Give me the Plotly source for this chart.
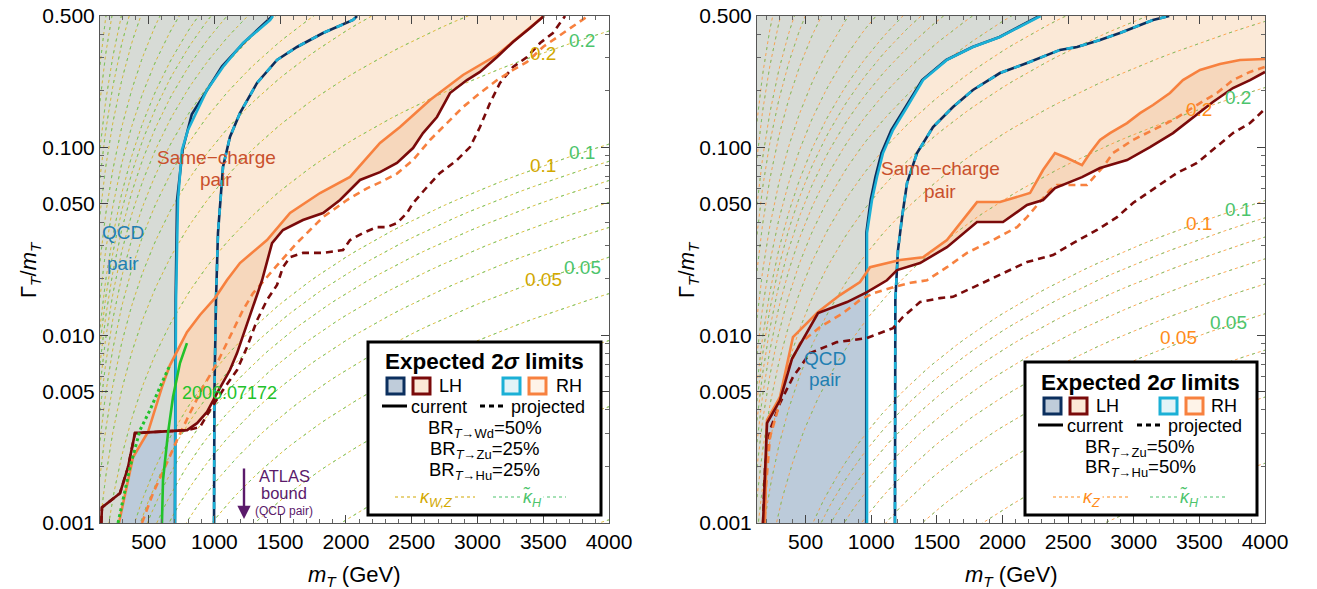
import numpy as np
import plotly.graph_objects as go

FONT = "Liberation Sans, Arial, sans-serif"

# ---------------- axes ----------------
M_RANGE = [130, 4000]
G_RANGE = [0.001, 0.5]
x_tickvals = [500, 1000, 1500, 2000, 2500, 3000, 3500, 4000]
y_tickvals = [0.001, 0.005, 0.01, 0.05, 0.1, 0.5]
y_ticktext = ["0.001", "0.005", "0.010", "0.050", "0.100", "0.500"]
y_minor = [0.002, 0.003, 0.004, 0.006, 0.007, 0.008, 0.009,
           0.02, 0.03, 0.04, 0.06, 0.07, 0.08, 0.09, 0.2, 0.3, 0.4]

# ---------------- coupling contours (Gamma/m = C * kappa^2 * m^2) ----------------
kappa_levels = [0.01, 0.02, 0.03, 0.04, 0.05, 0.06, 0.07, 0.08, 0.09,
                0.1, 0.2, 0.3, 0.4, 0.5, 0.6, 0.7, 0.8, 0.9,
                1.0, 1.2, 1.5, 2.0, 2.5, 3.0, 4.0, 5.0]
C_left = 6.5e-7    # GeV^-2
C_right = 3.25e-7

# ---------------- LEFT panel (BR: Wd 50%, Zu 25%, Hu 25%) ----------------
L_qcd_rh_m = [700, 708, 723, 753, 799, 944, 1065, 1217, 1423, 1445]
L_qcd_rh_g = [0.001, 0.0154, 0.0524, 0.0967, 0.1236, 0.2018, 0.2676, 0.359, 0.4757, 0.5]
L_qcd_lh_m = [700, 705, 716, 758, 828, 938, 1058, 1222, 1440]
L_qcd_lh_g = [0.001, 0.0154, 0.0524, 0.0967, 0.15, 0.2, 0.27, 0.36, 0.5]
L_qcd_proj_m = [997, 1000, 1012, 1027, 1065, 1118, 1194, 1324, 1476, 1628, 1826, 2054, 2084]
L_qcd_proj_g = [0.001, 0.005, 0.0154, 0.035, 0.0785, 0.1135, 0.152, 0.22, 0.2917, 0.342, 0.406, 0.476, 0.5]

L_sc_rh_m = [274, 381, 495, 601, 662, 791, 890, 1004, 1096, 1194, 1400, 1575, 1803, 2031,
             2259, 2411, 2639, 2890, 3148, 3377, 3505]
L_sc_rh_g = [0.001, 0.00224, 0.00305, 0.00529, 0.00693, 0.01038, 0.0128, 0.01575, 0.01964,
             0.0242, 0.0321, 0.0447, 0.0571, 0.0695, 0.1054, 0.1282, 0.1786, 0.2427, 0.31, 0.421, 0.5]
L_sc_lh_m = [140, 145, 282, 343, 396, 792, 868, 944, 1020, 1118, 1172, 1248, 1324, 1362, 1438,
             1521, 1673, 1826, 1955, 2107, 2259, 2388, 2510, 2586, 2692, 2791, 2920, 3019, 3149,
             3270, 3400, 3505]
L_sc_lh_g = [0.001, 0.00121, 0.00144, 0.00198, 0.00301, 0.00312, 0.0034, 0.0039, 0.00491,
             0.00652, 0.00803, 0.0116, 0.0167, 0.0196, 0.0309, 0.0363, 0.041, 0.0447, 0.0524,
             0.067, 0.0738, 0.0825, 0.0991, 0.119, 0.145, 0.1945, 0.228, 0.252, 0.3024, 0.3635,
             0.4316, 0.5]
L_sc_rh_proj_m = [449, 533, 624, 715, 814, 913, 1020, 1118, 1217, 1293, 1400, 1476, 1552, 1628,
                  1727, 1826, 2008, 2160, 2259, 2388, 2510, 2639, 2768, 2890, 3019, 3149, 3270,
                  3377, 3498, 3627, 3757, 3840]
L_sc_rh_proj_g = [0.001, 0.00144, 0.00198, 0.00276, 0.00385, 0.00529, 0.0071, 0.00977, 0.0136,
                  0.0167, 0.0205, 0.0235, 0.027, 0.031, 0.0363, 0.0425, 0.0524, 0.0605, 0.065,
                  0.0725, 0.0855, 0.1094, 0.1346, 0.1638, 0.1945, 0.228, 0.258, 0.2845, 0.342,
                  0.396, 0.459, 0.5]
L_sc_lh_proj_m = [140, 145, 282, 343, 396, 792, 890, 966, 1065, 1172, 1248, 1324, 1400, 1476,
                  1521, 1575, 1673, 1826, 1978, 2031, 2130, 2236, 2312, 2388, 2464, 2510, 2616,
                  2715, 2844, 2943, 3019, 3095, 3171, 3270, 3377, 3476, 3574, 3666]
L_sc_lh_proj_g = [0.001, 0.00121, 0.00144, 0.00198, 0.00301, 0.00312, 0.00324, 0.00399, 0.0051,
                  0.00652, 0.00864, 0.012, 0.0154, 0.0185, 0.023, 0.026, 0.0274, 0.0274, 0.0284,
                  0.0321, 0.035, 0.0376, 0.0376, 0.0395, 0.0447, 0.0505, 0.0614, 0.073, 0.0855,
                  0.1003, 0.1282, 0.172, 0.22, 0.2676, 0.3024, 0.359, 0.406, 0.5]
L_lit_m = [601, 609, 647, 685, 738, 791]            # 2006.07172 (solid green)
L_lit_g = [0.001, 0.00169, 0.00301, 0.00468, 0.0071, 0.00907]
L_lit2_m = [267, 358, 434, 510, 586, 662]           # dotted green
L_lit2_g = [0.001, 0.00198, 0.00312, 0.00399, 0.00529, 0.00693]

# ---------------- RIGHT panel (BR: Zu 50%, Hu 50%) ----------------
R_qcd_rh_m = [968, 968, 968, 1006, 1044, 1090, 1166, 1273, 1395, 1577, 1775, 1981, 2156, 2263, 2290]
R_qcd_rh_g = [0.001, 0.0154, 0.035, 0.0524, 0.0695, 0.0932, 0.1236, 0.1638, 0.228, 0.2917,
              0.342, 0.3866, 0.448, 0.49, 0.5]
R_qcd_lh_m = [962, 962, 963, 996, 1032, 1078, 1153, 1262, 1388, 1572, 1772, 1978, 2152, 2280]
R_qcd_lh_g = [0.001, 0.0154, 0.035, 0.0524, 0.0695, 0.0932, 0.1236, 0.1638, 0.228, 0.2917,
              0.342, 0.3866, 0.448, 0.5]
R_qcd_proj_m = [1181, 1184, 1204, 1235, 1273, 1349, 1471, 1623, 1775, 1981, 2187, 2438, 2568,
                2743, 2895, 3048, 3147, 3270]
R_qcd_proj_g = [0.001, 0.0154, 0.0284, 0.0425, 0.0646, 0.0932, 0.1282, 0.1638, 0.2018, 0.2485,
                0.281, 0.33, 0.342, 0.3725, 0.406, 0.448, 0.476, 0.5]
R_sc_rh_m = [191, 206, 305, 404, 595, 762, 915, 991, 1219, 1395, 1577, 1699, 1806, 1981, 2210,
             2309, 2400, 2492, 2606, 2667, 2743, 2819, 2949, 3048, 3147, 3276, 3375, 3505, 3657,
             3809, 4000]
R_sc_rh_g = [0.001, 0.00353, 0.00468, 0.00977, 0.01327, 0.01634, 0.01917, 0.023, 0.0251, 0.026,
             0.0321, 0.041, 0.0511, 0.0511, 0.0571, 0.0757, 0.0932, 0.0877, 0.0804, 0.0932,
             0.1094, 0.119, 0.1346, 0.152, 0.168, 0.1945, 0.228, 0.258, 0.2776, 0.2917, 0.295]
R_sc_lh_m = [176, 206, 305, 397, 595, 816, 968, 1120, 1197, 1372, 1577, 1806, 2004, 2187, 2309,
             2400, 2606, 2743, 2949, 3124, 3299, 3451, 3603, 3756, 3886, 4000]
R_sc_lh_g = [0.001, 0.0034, 0.0045, 0.0075, 0.0131, 0.015, 0.01696, 0.0196, 0.0222, 0.0242,
             0.0294, 0.04, 0.04, 0.0493, 0.0524, 0.0607, 0.0694, 0.0776, 0.0855, 0.1003, 0.119,
             0.1432, 0.1742, 0.2068, 0.228, 0.252]
R_sc_rh_proj_m = [176, 229, 282, 359, 458, 610, 785, 915, 1014, 1166, 1300, 1425, 1577, 1730,
                  1928, 2111, 2187, 2362, 2415, 2644, 2766, 2842, 2994, 3147, 3299, 3505, 3634,
                  3756, 3886, 4000]
R_sc_rh_proj_g = [0.001, 0.00287, 0.00385, 0.00652, 0.00907, 0.01104, 0.0131, 0.0154, 0.0167,
                  0.018, 0.019, 0.0196, 0.023, 0.0274, 0.0321, 0.0376, 0.0425, 0.0592, 0.063,
                  0.063, 0.0785, 0.0932, 0.1094, 0.1236, 0.1397, 0.172, 0.1945, 0.228, 0.252, 0.268]
R_sc_lh_proj_m = [176, 191, 229, 305, 404, 534, 739, 968, 1166, 1242, 1372, 1524, 1623, 1776,
                  1981, 2187, 2385, 2538, 2720, 2873, 2994, 3177, 3329, 3482, 3603, 3756, 3886, 4000]
R_sc_lh_proj_g = [0.001, 0.00198, 0.00312, 0.00435, 0.00598, 0.00803, 0.00918, 0.00965, 0.0109,
                  0.0125, 0.015, 0.01575, 0.016, 0.018, 0.0209, 0.0245, 0.0267, 0.0309, 0.0363,
                  0.0425, 0.0505, 0.0614, 0.073, 0.0825, 0.0967, 0.119, 0.1346, 0.16]

# ---------------- styling ----------------
NAVY = "#0B2F5E"
CYAN = "#1BB0D6"
DRED = "#7A0A0A"
ORNG = "#F7813F"
GREEN_LIT = "#22C22A"
FILL_DPEACH = "#F6D7BC"
FILL_LPEACH = "#FBE9D7"
FILL_GREY = "#D7DBD6"
FILL_BLUE = "#BCCBDA"
GOLD_C = "rgba(212,176,20,0.8)"
GREEN_C = "rgba(92,200,120,0.8)"
ORNG_C = "rgba(255,150,50,0.8)"

PANELS = {1: (100, 609), 2: (757, 1265)}
PTOP, PBOT = 16, 523

fig = go.Figure()


def axes(panel):
    return ("x", "y") if panel == 1 else ("x2", "y2")


def add(panel, **kw):
    xa, ya = axes(panel)
    fig.add_trace(go.Scatter(xaxis=xa, yaxis=ya, hoverinfo="skip", showlegend=False, **kw))


def above_polygon(m, g):
    xs = list(m) + [m[-1], M_RANGE[1] if m[-1] >= M_RANGE[1] else m[-1], M_RANGE[0], M_RANGE[0]]
    ys = list(g) + [G_RANGE[1], G_RANGE[1], G_RANGE[1], G_RANGE[0]]
    return xs, ys


def qcd_only_polygon(qm, curves):
    m_q = qm[0]
    pts = sorted(set([M_RANGE[0], m_q] + [mm for c in curves for mm in c[0] if M_RANGE[0] <= mm <= m_q]))
    env = []
    for mm in pts:
        vals = [np.interp(mm, cm, np.log10(cg), left=np.log10(G_RANGE[0])) for cm, cg in curves]
        env.append(10 ** min(vals))
    return pts + [m_q, M_RANGE[0]], env + [G_RANGE[0], G_RANGE[0]]


def contour_xy(C):
    ms = np.geomspace(M_RANGE[0], M_RANGE[1], 90)
    xs, ys = [], []
    for k in kappa_levels:
        xs += list(ms) + [None]
        ys += list(C * k * k * ms ** 2) + [None]
    return xs, ys


def draw_panel(panel, d, C, col_a):
    for (m, g), col in [((d["sc_lh_m"], d["sc_lh_g"]), FILL_DPEACH),
                        ((d["sc_rh_m"], d["sc_rh_g"]), FILL_LPEACH),
                        ((d["qcd_rh_m"], d["qcd_rh_g"]), FILL_GREY)]:
        xs, ys = above_polygon(m, g)
        add(panel, x=xs, y=ys, mode="lines", fill="toself", fillcolor=col, line=dict(width=0))
    xs, ys = qcd_only_polygon(d["qcd_rh_m"], [(d["sc_lh_m"], d["sc_lh_g"]), (d["sc_rh_m"], d["sc_rh_g"])])
    add(panel, x=xs, y=ys, mode="lines", fill="toself", fillcolor=FILL_BLUE, line=dict(width=0))
    cx, cy = contour_xy(C)
    add(panel, x=cx, y=cy, mode="lines", line=dict(color=col_a, width=1, dash="3px,3px"))
    add(panel, x=cx, y=cy, mode="lines", line=dict(color=GREEN_C, width=1, dash="3px,9px"))
    add(panel, x=d["qcd_proj_m"], y=d["qcd_proj_g"], mode="lines", line=dict(color=NAVY, width=2.6))
    add(panel, x=d["qcd_proj_m"], y=d["qcd_proj_g"], mode="lines",
        line=dict(color=CYAN, width=2.6, dash="7px,7px"))
    add(panel, x=d["qcd_lh_m"], y=d["qcd_lh_g"], mode="lines", line=dict(color=NAVY, width=2.6))
    add(panel, x=d["qcd_rh_m"], y=d["qcd_rh_g"], mode="lines", line=dict(color=CYAN, width=2.6))
    add(panel, x=d["sc_lh_proj_m"], y=d["sc_lh_proj_g"], mode="lines",
        line=dict(color=DRED, width=2.6, dash="7px,5px"))
    add(panel, x=d["sc_rh_proj_m"], y=d["sc_rh_proj_g"], mode="lines",
        line=dict(color=ORNG, width=2.6, dash="7px,5px"))
    add(panel, x=d["sc_rh_m"], y=d["sc_rh_g"], mode="lines", line=dict(color=ORNG, width=2.6))
    add(panel, x=d["sc_lh_m"], y=d["sc_lh_g"], mode="lines", line=dict(color=DRED, width=2.6))


left = dict(qcd_rh_m=L_qcd_rh_m, qcd_rh_g=L_qcd_rh_g, qcd_lh_m=L_qcd_lh_m, qcd_lh_g=L_qcd_lh_g,
            qcd_proj_m=L_qcd_proj_m, qcd_proj_g=L_qcd_proj_g, sc_rh_m=L_sc_rh_m, sc_rh_g=L_sc_rh_g,
            sc_lh_m=L_sc_lh_m, sc_lh_g=L_sc_lh_g, sc_rh_proj_m=L_sc_rh_proj_m,
            sc_rh_proj_g=L_sc_rh_proj_g, sc_lh_proj_m=L_sc_lh_proj_m, sc_lh_proj_g=L_sc_lh_proj_g)
right = dict(qcd_rh_m=R_qcd_rh_m, qcd_rh_g=R_qcd_rh_g, qcd_lh_m=R_qcd_lh_m, qcd_lh_g=R_qcd_lh_g,
             qcd_proj_m=R_qcd_proj_m, qcd_proj_g=R_qcd_proj_g, sc_rh_m=R_sc_rh_m, sc_rh_g=R_sc_rh_g,
             sc_lh_m=R_sc_lh_m, sc_lh_g=R_sc_lh_g, sc_rh_proj_m=R_sc_rh_proj_m,
             sc_rh_proj_g=R_sc_rh_proj_g, sc_lh_proj_m=R_sc_lh_proj_m, sc_lh_proj_g=R_sc_lh_proj_g)

draw_panel(1, left, C_left, GOLD_C)
add(1, x=L_lit2_m, y=L_lit2_g, mode="lines", line=dict(color=GREEN_LIT, width=3, dash="dot"))
add(1, x=L_lit_m, y=L_lit_g, mode="lines", line=dict(color=GREEN_LIT, width=2.6))
draw_panel(2, right, C_right, ORNG_C)

# ---------------- annotations / legend boxes ----------------
annotations = []
shapes = []


def dom(panel, px, py):
    x0, x1 = PANELS[panel]
    return (px - x0) / (x1 - x0), (PBOT - py) / (PBOT - PTOP)


def refs(panel):
    return ("x domain", "y domain") if panel == 1 else ("x2 domain", "y2 domain")


def text(panel, px, py, s, size, color="black", **kw):
    x, y = dom(panel, px, py)
    xr, yr = refs(panel)
    annotations.append(dict(x=x, y=y, xref=xr, yref=yr, text=s, showarrow=False,
                            xanchor=kw.pop("xanchor", "center"), yanchor="middle",
                            font=dict(family=FONT, size=size, color=color), **kw))


def rect(panel, x0, y0, x1, y1, line, fill, width):
    a, b = dom(panel, x0, y0)
    c, e = dom(panel, x1, y1)
    xr, yr = refs(panel)
    shapes.append(dict(type="rect", xref=xr, yref=yr, x0=a, y0=b, x1=c, y1=e,
                       line=dict(color=line, width=width), fillcolor=fill, layer="above"))


def seg(panel, x0, y0, x1, y1, color, width, dash="solid"):
    a, b = dom(panel, x0, y0)
    c, e = dom(panel, x1, y1)
    xr, yr = refs(panel)
    shapes.append(dict(type="line", xref=xr, yref=yr, x0=a, y0=b, x1=c, y1=e,
                       line=dict(color=color, width=width, dash=dash), layer="above"))


TXT_QCD = "#1F7FB2"
TXT_SC = "#C9502C"
GOLD_T = "#D2A800"
GREEN_T = "#4CC46C"
ORNG_T = "#FF8C1A"

text(1, 123, 233, "QCD", 19, TXT_QCD)
text(1, 123, 263, "pair", 19, TXT_QCD)
text(1, 216, 157, "Same\u2212charge", 19, TXT_SC)
text(1, 216, 179, "pair", 19, TXT_SC)
text(1, 229, 393, "2006.07172", 18, GREEN_LIT)
text(1, 543, 53, "0.2", 19, GOLD_T)
text(1, 582, 40, "0.2", 19, GREEN_T)
text(1, 543, 166, "0.1", 19, GOLD_T)
text(1, 582, 152, "0.1", 19, GREEN_T)
text(1, 543, 279, "0.05", 19, GOLD_T)
text(1, 582, 267, "0.05", 19, GREEN_T)
PURP = "#5B1A6B"
text(1, 284, 476, "ATLAS", 16.5, PURP)
text(1, 284, 493, "bound", 16.5, PURP)
text(1, 284, 511, "(QCD pair)", 12, PURP)
ax_, ay_ = dom(1, 244, 519)
annotations.append(dict(x=ax_, y=ay_, xref="x domain", yref="y domain", text="", showarrow=True,
                        ax=0, ay=-52, arrowhead=2, arrowsize=1.1, arrowwidth=2.4, arrowcolor=PURP))

text(2, 825, 358, "QCD", 19, TXT_QCD)
text(2, 825, 379, "pair", 19, TXT_QCD)
text(2, 940, 168, "Same\u2212charge", 19, TXT_SC)
text(2, 940, 191, "pair", 19, TXT_SC)
text(2, 1199, 110, "0.2", 19, ORNG_T)
text(2, 1238, 97, "0.2", 19, GREEN_T)
text(2, 1199, 223, "0.1", 19, ORNG_T)
text(2, 1238, 210, "0.1", 19, GREEN_T)
text(2, 1178, 337, "0.05", 19, ORNG_T)
text(2, 1228, 322, "0.05", 19, GREEN_T)

SUB = "<sub><i>T</i>\u2192{}</sub>"


def legend(panel, box, ty, sq_y, cur_y, br_lines, br_y0, br_dy, kap_y, kap_label, kap_color,
           cx, sqx, lhx, rhx, curx, projx, kx):
    rect(panel, *box, "black", "white", 3)
    text(panel, cx, ty, "<b>Expected 2<i>\u03c3</i> limits</b>", 22.5)
    for x0, border, fill in [(sqx[0], NAVY, "#BFCCDA"), (sqx[1], DRED, "#FBE8D6"),
                             (sqx[2], CYAN, "#E2F3F7"), (sqx[3], ORNG, "#FEF3E8")]:
        rect(panel, x0, sq_y - 8, x0 + 17, sq_y + 8, border, fill, 3)
    text(panel, lhx, sq_y, "LH", 18)
    text(panel, rhx, sq_y, "RH", 18)
    seg(panel, curx[0], cur_y, curx[0] + 25, cur_y, "black", 3)
    text(panel, curx[1], cur_y + 1, "current", 18)
    seg(panel, projx[0], cur_y, projx[0] + 27, cur_y, "black", 3, "5px,4px")
    text(panel, projx[1], cur_y + 1, "projected", 18)
    for i, s in enumerate(br_lines):
        text(panel, cx, br_y0 + i * br_dy, s, 18.5)
    seg(panel, kx[0], kap_y, kx[1], kap_y, kap_color, 1.2, "3px,3px")
    text(panel, kx[2], kap_y + 1, kap_label, 18, kap_color, bgcolor="white")
    seg(panel, kx[3], kap_y, kx[4], kap_y, GREEN_T, 1.2, "3px,3px")
    text(panel, kx[5], kap_y + 1, "<i>\u03ba\u0303</i><sub><i>H</i></sub>", 18, GREEN_T, bgcolor="white")


legend(1, (368, 342, 601, 515), 362, 386, 406,
       ["BR" + SUB.format("Wd") + "=50%", "BR" + SUB.format("Zu") + "=25%",
        "BR" + SUB.format("Hu") + "=25%"], 429, 21, 497,
       "<i>\u03ba</i><sub><i>W,Z</i></sub>", GOLD_T,
       485, (387, 413, 503, 529), 450, 569, (382, 439), (480, 548),
       (395, 475, 436, 493, 566, 532))
legend(2, (1025, 362, 1257, 515), 383, 406, 425,
       ["BR" + SUB.format("Zu") + "=50%", "BR" + SUB.format("Hu") + "=50%"], 448, 20, 497,
       "<i>\u03ba</i><sub><i>Z</i></sub>", ORNG_T,
       1140, (1044, 1070, 1160, 1186), 1107, 1224, (1038, 1095), (1137, 1205),
       (1053, 1130, 1092, 1150, 1228, 1189))

for panel, cx, yx in [(1, 354, 30), (2, 1011, 688)]:
    text(panel, cx, 576, "<i>m</i><sub><i>T</i></sub> (GeV)", 22)
    x, y = dom(panel, yx, 270)
    xr, yr = refs(panel)
    annotations.append(dict(x=x, y=y, xref=xr, yref=yr, showarrow=False, textangle=-90,
                            text="\u0393<sub><i>T</i></sub>/<i>m</i><sub><i>T</i></sub>",
                            font=dict(family=FONT, size=22, color="black"),
                            xanchor="center", yanchor="middle"))

W = 1317
xaxis_common = dict(range=M_RANGE, tickmode="array", tickvals=x_tickvals, automargin=False,
                    ticks="inside", ticklen=8, tickcolor="#444", showline=True,
                    linecolor="#555", linewidth=1, mirror="allticks", showgrid=False,
                    zeroline=False, tickfont=dict(family=FONT, size=21, color="black"),
                    minor=dict(dtick=100, tick0=0, ticks="inside", ticklen=4, tickcolor="#666"))
yaxis_common = dict(type="log", range=[np.log10(G_RANGE[0]), np.log10(G_RANGE[1])],
                    tickmode="array", tickvals=y_tickvals, ticktext=y_ticktext, automargin=False,
                    ticks="inside", ticklen=8, tickcolor="#444", showline=True,
                    linecolor="#555", linewidth=1, mirror="allticks", showgrid=False,
                    zeroline=False, tickfont=dict(family=FONT, size=21, color="black"),
                    minor=dict(tickvals=y_minor, ticks="inside", ticklen=4, tickcolor="#666"))

fig.update_layout(
    width=W, height=589, autosize=False,
    margin=dict(l=0, r=0, t=PTOP, b=589 - PBOT, pad=0, autoexpand=False),
    paper_bgcolor="white", plot_bgcolor="white",
    xaxis=dict(domain=[100 / W, 609 / W], anchor="y", **xaxis_common),
    yaxis=dict(domain=[0, 1], anchor="x", **yaxis_common),
    xaxis2=dict(domain=[757 / W, 1265 / W], anchor="y2", **xaxis_common),
    yaxis2=dict(domain=[0, 1], anchor="x2", **yaxis_common),
    annotations=annotations, shapes=shapes, showlegend=False,
)

fig.write_html("out.html", config={"responsive": False, "displayModeBar": False},
               post_script="document.body.style.margin='0';document.body.style.overflow='hidden';")
